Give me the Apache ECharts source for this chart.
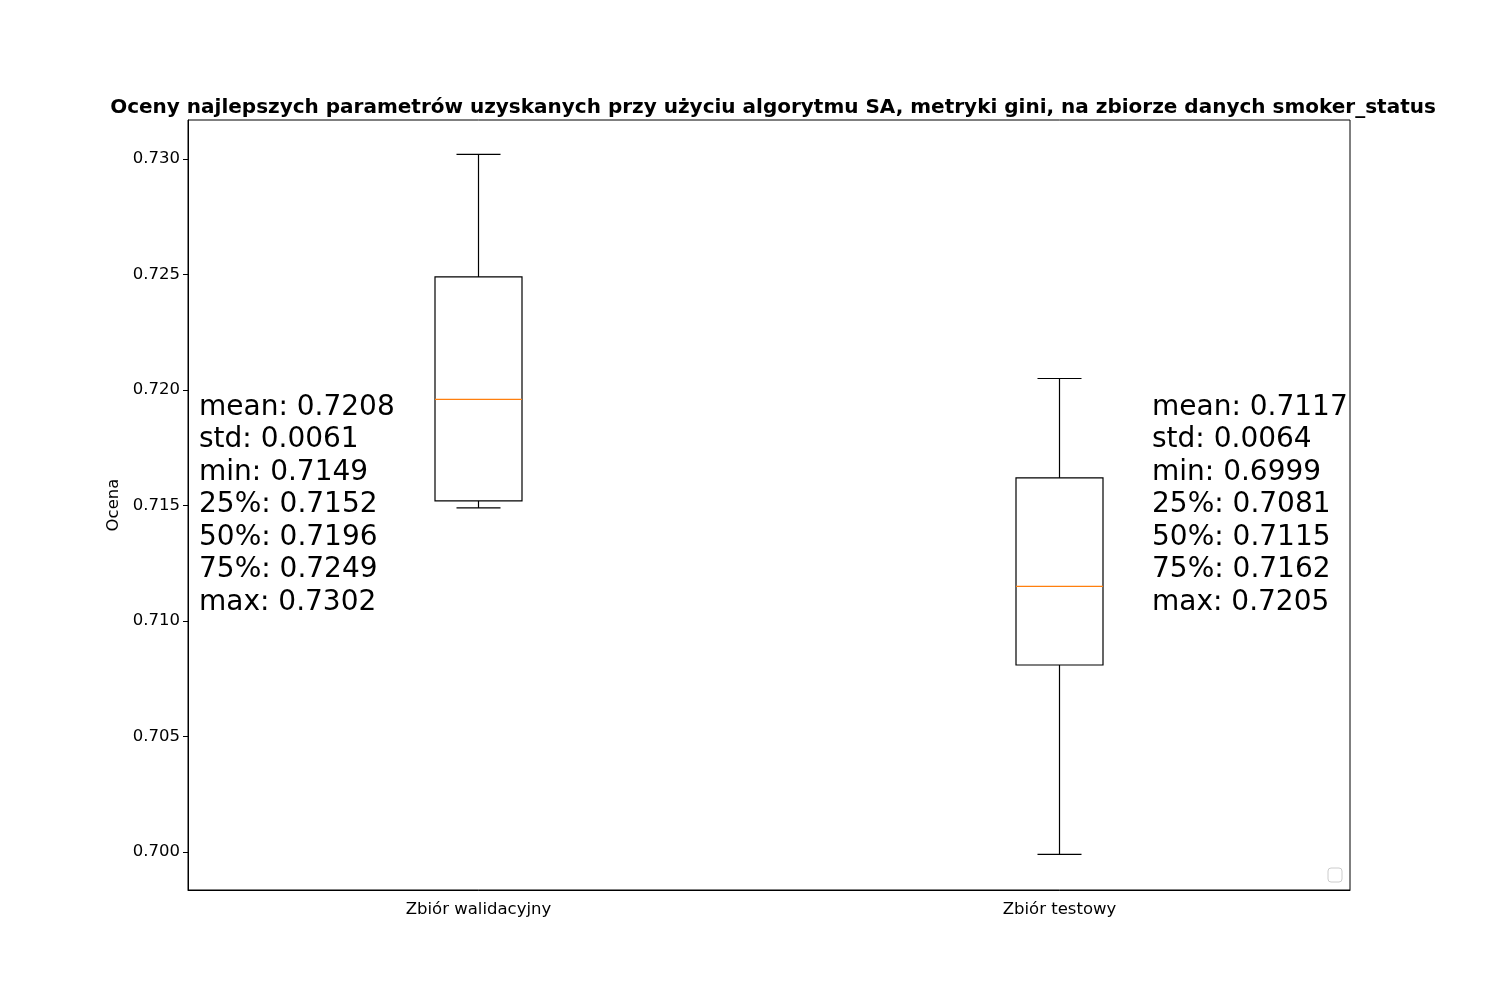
<!DOCTYPE html>
<html><head><meta charset="utf-8">
<script src="https://cdn.jsdelivr.net/npm/echarts@6/dist/echarts.min.js"></script>
<style>html,body{margin:0;padding:0;background:#fff}#c{width:1500px;height:1000px}</style>
</head><body><div id="c"></div>
<script>
const categories = ['Zbiór walidacyjny', 'Zbiór testowy'];
const mins = [0.7149, 0.6999];
const q1s = [0.7152, 0.7081];
const medians = [0.7196, 0.7115];
const q3s = [0.7249, 0.7162];
const maxs = [0.7302, 0.7205];
const means = [0.7208, 0.7117];
const stds = [0.0061, 0.0064];
const yTicks = [0.700, 0.705, 0.710, 0.715, 0.720, 0.725, 0.730];

const data = categories.map((c, i) => [i, mins[i], q1s[i], medians[i], q3s[i], maxs[i]]);
const f = v => v.toFixed(4);
const statText = i => ['mean: ' + f(means[i]), 'std: ' + f(stds[i]), 'min: ' + f(mins[i]),
  '25%: ' + f(q1s[i]), '50%: ' + f(medians[i]), '75%: ' + f(q3s[i]), 'max: ' + f(maxs[i])].join('\n');

const chart = echarts.init(document.getElementById('c'));
const font = 'DejaVu Sans';
chart.setOption({
  animation: false,
  textStyle: {fontFamily: font},
  title: {text: 'Oceny najlepszych parametrów uzyskanych przy użyciu algorytmu SA, metryki gini, na zbiorze danych smoker_status',
    left: 768, top: 93, textAlign: 'center', textStyle: {fontFamily: font, fontSize: 20, fontWeight: 'bold', color: '#000'}},
  grid: {left: 188, right: 150, top: 120, bottom: 110, show: true, borderColor: '#000', borderWidth: 1},
  xAxis: {type: 'category', data: categories, boundaryGap: true,
    axisLine: {lineStyle: {color: '#000'}}, axisTick: {alignWithLabel: true, length: 5, lineStyle: {color: '#000'}},
    axisLabel: {fontSize: 16.5, color: '#000', margin: 11}},
  yAxis: {type: 'value', min: 0.69836, max: 0.73169, name: 'Ocena', nameLocation: 'middle', nameGap: 64,
    nameTextStyle: {fontSize: 16.5, color: '#000'}, splitLine: {show: false},
    axisLine: {show: true, lineStyle: {color: '#000'}},
    axisTick: {show: true, length: 5, customValues: yTicks, lineStyle: {color: '#000'}},
    axisLabel: {fontSize: 16.5, color: '#000', customValues: yTicks, formatter: v => v.toFixed(3)}},
  series: [{type: 'custom', data: data, renderItem: (params, api) => {
    const x = api.value(0);
    const p = k => api.coord([x, api.value(k)]);
    const pMin = p(1), pQ1 = p(2), pMed = p(3), pQ3 = p(4), pMax = p(5);
    const cx = pMin[0], bw = 43.5, cw = 22;
    const ls = {stroke: '#000', lineWidth: 1.2, fill: null};
    return {type: 'group', children: [
      {type: 'line', shape: {x1: cx, y1: pMin[1], x2: cx, y2: pQ1[1]}, style: ls},
      {type: 'line', shape: {x1: cx, y1: pQ3[1], x2: cx, y2: pMax[1]}, style: ls},
      {type: 'line', shape: {x1: cx - cw, y1: pMin[1], x2: cx + cw, y2: pMin[1]}, style: ls},
      {type: 'line', shape: {x1: cx - cw, y1: pMax[1], x2: cx + cw, y2: pMax[1]}, style: ls},
      {type: 'rect', shape: {x: cx - bw, y: pQ3[1], width: 2 * bw, height: pQ1[1] - pQ3[1]}, style: ls},
      {type: 'line', shape: {x1: cx - bw, y1: pMed[1], x2: cx + bw, y2: pMed[1]}, style: {stroke: '#ff7f0e', lineWidth: 1.2}}
    ]};
  }}],
  graphic: [
    {type: 'text', left: 199, top: 391, style: {text: statText(0), fontSize: 28, lineHeight: 32.5, fill: '#000', fontFamily: font}},
    {type: 'text', left: 1152, top: 391, style: {text: statText(1), fontSize: 28, lineHeight: 32.5, fill: '#000', fontFamily: font}},
    {type: 'rect', shape: {x: 1328, y: 868, width: 14, height: 14, r: 3}, style: {fill: '#fff', stroke: '#ccc', lineWidth: 1}}
  ]
});
</script></body></html>
